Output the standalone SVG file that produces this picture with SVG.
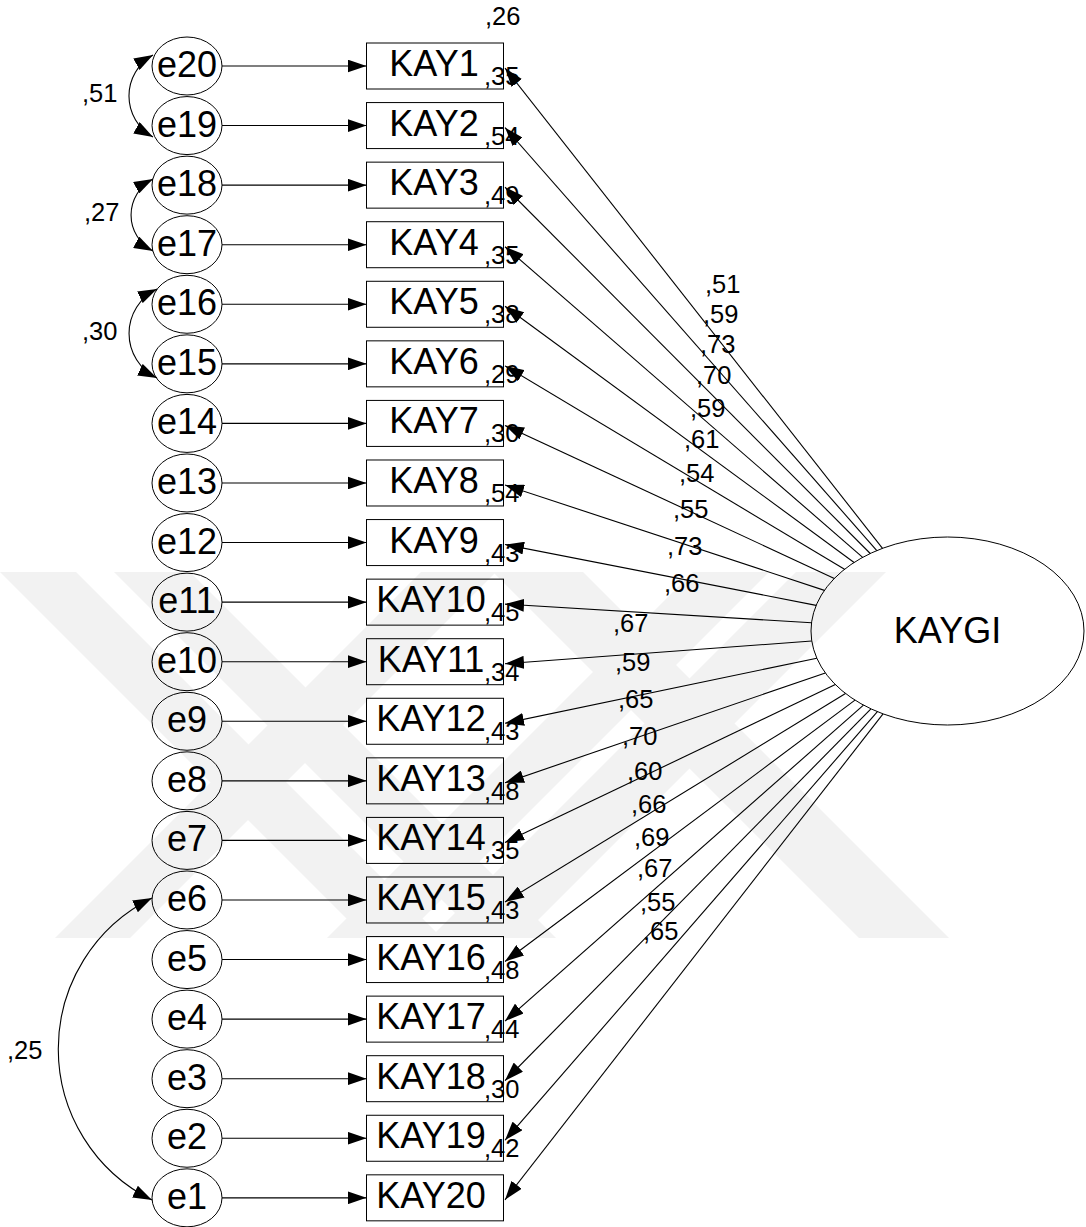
<svg xmlns="http://www.w3.org/2000/svg" width="1086" height="1227" viewBox="0 0 1086 1227">
<defs>
<marker id="ah" markerUnits="userSpaceOnUse" markerWidth="19" markerHeight="13" refX="19" refY="6.5" orient="auto-start-reverse" viewBox="0 0 19 13">
<path d="M0,0 L19,6.5 L0,13 z" fill="#000"/>
</marker>
<style>
.big{font-family:"Liberation Sans",Arial,sans-serif;font-size:36px;fill:#000}
.sm{font-family:"Liberation Sans",Arial,sans-serif;font-size:25.5px;fill:#000}
.mid{text-anchor:middle}
.shp{fill:none;stroke:#000;stroke-width:1}
.ln{fill:none;stroke:#000;stroke-width:1.1;marker-end:url(#ah)}
.cv{fill:none;stroke:#000;stroke-width:1.1;marker-start:url(#ah);marker-end:url(#ah)}
.wm{fill:#f2f2f2}
</style>
</defs>
<rect width="1086" height="1227" fill="#fff"/>
<g id="watermark">
<polygon class="wm" points="0,572 76,572 442,938 366,938"/>
<polygon class="wm" points="114,572 190,572 556,938 480,938"/>
<polygon class="wm" points="421,572 496,572 130,938 55,938"/>
<polygon class="wm" points="693,572 769,572 403,938 327,938"/>
<polygon class="wm" points="796,572 886,572 520,938 430,938"/>
<polygon class="wm" points="493,572 583,572 949,938 859,938"/>
</g>
<g id="connectors">
<line class="ln" x1="222" y1="66" x2="366.5" y2="66"/>
<line class="ln" x1="222" y1="125.57" x2="366.5" y2="125.57"/>
<line class="ln" x1="222" y1="185.14" x2="366.5" y2="185.14"/>
<line class="ln" x1="222" y1="244.71" x2="366.5" y2="244.71"/>
<line class="ln" x1="222" y1="304.28" x2="366.5" y2="304.28"/>
<line class="ln" x1="222" y1="363.85" x2="366.5" y2="363.85"/>
<line class="ln" x1="222" y1="423.42" x2="366.5" y2="423.42"/>
<line class="ln" x1="222" y1="482.99" x2="366.5" y2="482.99"/>
<line class="ln" x1="222" y1="542.56" x2="366.5" y2="542.56"/>
<line class="ln" x1="222" y1="602.13" x2="366.5" y2="602.13"/>
<line class="ln" x1="222" y1="661.7" x2="366.5" y2="661.7"/>
<line class="ln" x1="222" y1="721.27" x2="366.5" y2="721.27"/>
<line class="ln" x1="222" y1="780.84" x2="366.5" y2="780.84"/>
<line class="ln" x1="222" y1="840.41" x2="366.5" y2="840.41"/>
<line class="ln" x1="222" y1="899.98" x2="366.5" y2="899.98"/>
<line class="ln" x1="222" y1="959.55" x2="366.5" y2="959.55"/>
<line class="ln" x1="222" y1="1019.12" x2="366.5" y2="1019.12"/>
<line class="ln" x1="222" y1="1078.69" x2="366.5" y2="1078.69"/>
<line class="ln" x1="222" y1="1138.26" x2="366.5" y2="1138.26"/>
<line class="ln" x1="222" y1="1197.83" x2="366.5" y2="1197.83"/>

<line class="ln" x1="882.53" y1="548.33" x2="505" y2="68"/>
<line class="ln" x1="876.82" y1="550.58" x2="505" y2="127.57"/>
<line class="ln" x1="870.24" y1="553.5" x2="505" y2="187.14"/>
<line class="ln" x1="862.69" y1="557.35" x2="505" y2="246.71"/>
<line class="ln" x1="854.09" y1="562.46" x2="505" y2="306.28"/>
<line class="ln" x1="844.53" y1="569.3" x2="505" y2="365.85"/>
<line class="ln" x1="834.34" y1="578.43" x2="505" y2="425.42"/>
<line class="ln" x1="824.4" y1="590.38" x2="505" y2="484.99"/>
<line class="ln" x1="816.18" y1="605.35" x2="505" y2="544.56"/>
<line class="ln" x1="811.53" y1="622.74" x2="505" y2="604.13"/>
<line class="ln" x1="811.78" y1="641.03" x2="505" y2="663.7"/>
<line class="ln" x1="816.86" y1="658.24" x2="505" y2="723.27"/>
<line class="ln" x1="825.33" y1="672.92" x2="505" y2="782.84"/>
<line class="ln" x1="835.35" y1="684.58" x2="505" y2="842.41"/>
<line class="ln" x1="845.5" y1="693.47" x2="505" y2="901.98"/>
<line class="ln" x1="854.98" y1="700.11" x2="505" y2="961.55"/>
<line class="ln" x1="863.47" y1="705.08" x2="505" y2="1021.12"/>
<line class="ln" x1="870.93" y1="708.82" x2="505" y2="1080.69"/>
<line class="ln" x1="877.41" y1="711.66" x2="505" y2="1140.26"/>
<line class="ln" x1="883.04" y1="713.86" x2="505" y2="1199.83"/>

<path class="cv" d="M153,55 A47,47 0 0 0 153,137"/>
<path class="cv" d="M153,179 A40.5,40.5 0 0 0 153,251"/>
<path class="cv" d="M157,289 A49.4,49.4 0 0 0 157,378"/>
<path class="cv" d="M152,898 A168.5,168.5 0 0 0 152,1200"/>
</g>
<g id="cov-labels">
<text class="sm" x="82" y="102">,51</text>
<text class="sm" x="84" y="221">,27</text>
<text class="sm" x="82" y="340">,30</text>
<text class="sm" x="7" y="1059">,25</text>
</g>
<g id="path-labels">
<text class="sm" x="705" y="293">,51</text>
<text class="sm" x="703" y="323">,59</text>
<text class="sm" x="700" y="353">,73</text>
<text class="sm" x="696" y="384">,70</text>
<text class="sm" x="690" y="417">,59</text>
<text class="sm" x="684" y="448">,61</text>
<text class="sm" x="679" y="482">,54</text>
<text class="sm" x="673" y="518">,55</text>
<text class="sm" x="667" y="555">,73</text>
<text class="sm" x="664" y="592">,66</text>
<text class="sm" x="613" y="632">,67</text>
<text class="sm" x="615" y="671">,59</text>
<text class="sm" x="618" y="708">,65</text>
<text class="sm" x="622" y="745">,70</text>
<text class="sm" x="627" y="780">,60</text>
<text class="sm" x="631" y="813">,66</text>
<text class="sm" x="634" y="846">,69</text>
<text class="sm" x="637" y="877">,67</text>
<text class="sm" x="640" y="911">,55</text>
<text class="sm" x="643" y="940">,65</text>
</g>
<g id="r2-labels">
<text class="sm" x="485" y="25">,26</text>
<text class="sm" x="484" y="85">,35</text>
<text class="sm" x="484" y="144.57">,54</text>
<text class="sm" x="484" y="204.14">,49</text>
<text class="sm" x="484" y="263.71">,35</text>
<text class="sm" x="484" y="323.28">,38</text>
<text class="sm" x="484" y="382.85">,29</text>
<text class="sm" x="484" y="442.42">,30</text>
<text class="sm" x="484" y="501.99">,54</text>
<text class="sm" x="484" y="561.56">,43</text>
<text class="sm" x="484" y="621.13">,45</text>
<text class="sm" x="484" y="680.7">,34</text>
<text class="sm" x="484" y="740.27">,43</text>
<text class="sm" x="484" y="799.84">,48</text>
<text class="sm" x="484" y="859.41">,35</text>
<text class="sm" x="484" y="918.98">,43</text>
<text class="sm" x="484" y="978.55">,48</text>
<text class="sm" x="484" y="1038.12">,44</text>
<text class="sm" x="484" y="1097.69">,30</text>
<text class="sm" x="484" y="1157.26">,42</text>
</g>
<g id="KAYGI"><ellipse class="shp" cx="947.5" cy="631" rx="136.5" ry="94"/><text class="big mid" x="947.5" y="643">KAYGI</text></g>
<g id="e20"><ellipse class="shp" cx="187" cy="66" rx="35" ry="29"/><text class="big mid" x="187" y="77">e20</text></g>
<g id="e19"><ellipse class="shp" cx="187" cy="125.57" rx="35" ry="29"/><text class="big mid" x="187" y="136.57">e19</text></g>
<g id="e18"><ellipse class="shp" cx="187" cy="185.14" rx="35" ry="29"/><text class="big mid" x="187" y="196.14">e18</text></g>
<g id="e17"><ellipse class="shp" cx="187" cy="244.71" rx="35" ry="29"/><text class="big mid" x="187" y="255.71">e17</text></g>
<g id="e16"><ellipse class="shp" cx="187" cy="304.28" rx="35" ry="29"/><text class="big mid" x="187" y="315.28">e16</text></g>
<g id="e15"><ellipse class="shp" cx="187" cy="363.85" rx="35" ry="29"/><text class="big mid" x="187" y="374.85">e15</text></g>
<g id="e14"><ellipse class="shp" cx="187" cy="423.42" rx="35" ry="29"/><text class="big mid" x="187" y="434.42">e14</text></g>
<g id="e13"><ellipse class="shp" cx="187" cy="482.99" rx="35" ry="29"/><text class="big mid" x="187" y="493.99">e13</text></g>
<g id="e12"><ellipse class="shp" cx="187" cy="542.56" rx="35" ry="29"/><text class="big mid" x="187" y="553.56">e12</text></g>
<g id="e11"><ellipse class="shp" cx="187" cy="602.13" rx="35" ry="29"/><text class="big mid" x="187" y="613.13">e11</text></g>
<g id="e10"><ellipse class="shp" cx="187" cy="661.7" rx="35" ry="29"/><text class="big mid" x="187" y="672.7">e10</text></g>
<g id="e9"><ellipse class="shp" cx="187" cy="721.27" rx="35" ry="29"/><text class="big mid" x="187" y="732.27">e9</text></g>
<g id="e8"><ellipse class="shp" cx="187" cy="780.84" rx="35" ry="29"/><text class="big mid" x="187" y="791.84">e8</text></g>
<g id="e7"><ellipse class="shp" cx="187" cy="840.41" rx="35" ry="29"/><text class="big mid" x="187" y="851.41">e7</text></g>
<g id="e6"><ellipse class="shp" cx="187" cy="899.98" rx="35" ry="29"/><text class="big mid" x="187" y="910.98">e6</text></g>
<g id="e5"><ellipse class="shp" cx="187" cy="959.55" rx="35" ry="29"/><text class="big mid" x="187" y="970.55">e5</text></g>
<g id="e4"><ellipse class="shp" cx="187" cy="1019.12" rx="35" ry="29"/><text class="big mid" x="187" y="1030.12">e4</text></g>
<g id="e3"><ellipse class="shp" cx="187" cy="1078.69" rx="35" ry="29"/><text class="big mid" x="187" y="1089.69">e3</text></g>
<g id="e2"><ellipse class="shp" cx="187" cy="1138.26" rx="35" ry="29"/><text class="big mid" x="187" y="1149.26">e2</text></g>
<g id="e1"><ellipse class="shp" cx="187" cy="1197.83" rx="35" ry="29"/><text class="big mid" x="187" y="1208.83">e1</text></g>
<g id="KAY1"><rect class="shp" x="366.5" y="43" width="137" height="46"/><text class="big mid" x="434" y="76">KAY1</text></g>
<g id="KAY2"><rect class="shp" x="366.5" y="102.57" width="137" height="46"/><text class="big mid" x="434" y="135.57">KAY2</text></g>
<g id="KAY3"><rect class="shp" x="366.5" y="162.14" width="137" height="46"/><text class="big mid" x="434" y="195.14">KAY3</text></g>
<g id="KAY4"><rect class="shp" x="366.5" y="221.71" width="137" height="46"/><text class="big mid" x="434" y="254.71">KAY4</text></g>
<g id="KAY5"><rect class="shp" x="366.5" y="281.28" width="137" height="46"/><text class="big mid" x="434" y="314.28">KAY5</text></g>
<g id="KAY6"><rect class="shp" x="366.5" y="340.85" width="137" height="46"/><text class="big mid" x="434" y="373.85">KAY6</text></g>
<g id="KAY7"><rect class="shp" x="366.5" y="400.42" width="137" height="46"/><text class="big mid" x="434" y="433.42">KAY7</text></g>
<g id="KAY8"><rect class="shp" x="366.5" y="459.99" width="137" height="46"/><text class="big mid" x="434" y="492.99">KAY8</text></g>
<g id="KAY9"><rect class="shp" x="366.5" y="519.56" width="137" height="46"/><text class="big mid" x="434" y="552.56">KAY9</text></g>
<g id="KAY10"><rect class="shp" x="366.5" y="579.13" width="137" height="46"/><text class="big mid" x="431" y="612.13">KAY10</text></g>
<g id="KAY11"><rect class="shp" x="366.5" y="638.7" width="137" height="46"/><text class="big mid" x="431" y="671.7">KAY11</text></g>
<g id="KAY12"><rect class="shp" x="366.5" y="698.27" width="137" height="46"/><text class="big mid" x="431" y="731.27">KAY12</text></g>
<g id="KAY13"><rect class="shp" x="366.5" y="757.84" width="137" height="46"/><text class="big mid" x="431" y="790.84">KAY13</text></g>
<g id="KAY14"><rect class="shp" x="366.5" y="817.41" width="137" height="46"/><text class="big mid" x="431" y="850.41">KAY14</text></g>
<g id="KAY15"><rect class="shp" x="366.5" y="876.98" width="137" height="46"/><text class="big mid" x="431" y="909.98">KAY15</text></g>
<g id="KAY16"><rect class="shp" x="366.5" y="936.55" width="137" height="46"/><text class="big mid" x="431" y="969.55">KAY16</text></g>
<g id="KAY17"><rect class="shp" x="366.5" y="996.12" width="137" height="46"/><text class="big mid" x="431" y="1029.12">KAY17</text></g>
<g id="KAY18"><rect class="shp" x="366.5" y="1055.69" width="137" height="46"/><text class="big mid" x="431" y="1088.69">KAY18</text></g>
<g id="KAY19"><rect class="shp" x="366.5" y="1115.26" width="137" height="46"/><text class="big mid" x="431" y="1148.26">KAY19</text></g>
<g id="KAY20"><rect class="shp" x="366.5" y="1174.83" width="137" height="46"/><text class="big mid" x="431" y="1207.83">KAY20</text></g>
</svg>
